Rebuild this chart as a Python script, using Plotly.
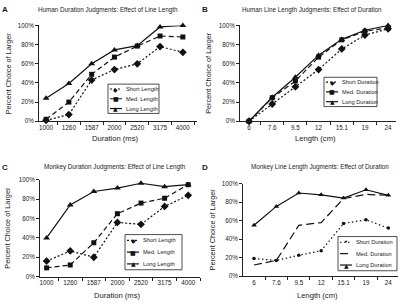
import plotly.graph_objects as go

# ---------------- data ----------------
durations = ["1000", "1260", "1587", "2000", "2520", "3175", "4000"]
lengths = ["6", "7.6", "9.5", "12", "15.1", "19", "24"]

a_short = [1, 7, 43, 54, 60, 78, 72]
a_med = [2, 20, 49, 67, 78.5, 89, 88]
a_long = [24, 39.5, 60, 74.5, 79, 98.5, 100]

b_short = [0, 18, 36, 54, 75.5, 90, 96.5]
b_med = [0, 24.5, 42, 67, 85, 94, 97.5]
b_long = [0, 25, 46, 69, 85.5, 95, 100]

c_short = [16, 26.5, 20, 56, 54, 72.5, 84]
c_med = [9, 12, 35, 65, 76, 81, 95]
c_long = [40, 74, 88, 91.5, 96.5, 93, 95]

d_short = [19, 17, 22.5, 27.5, 57, 61, 52]
d_med = [12, 17, 55, 58, 84, 88.5, 87.5]
d_long = [55, 75.5, 90, 88, 84.5, 93.5, 87.5]

y_ticks = [0, 20, 40, 60, 80, 100]
y_tick_text = ["0%", "20%", "40%", "60%", "80%", "100%"]

panel_letters = ["A", "B", "C", "D"]
panel_titles = [
    "Human Duration Judgments: Effect of Line Length",
    "Human Line Length Judgments: Effect of Duration",
    "Monkey Duration Judgments: Effect of Line Length",
    "Monkey Line Length Jugments: Effect of Duration",
]
x_titles = ["Duration (ms)", "Length (cm)", "Duration (ms)", "Length (cm)"]
y_title = "Percent Choice of Larger"
legend_names = [
    ["Short Length", "Med. Length", "Long Length"],
    ["Short Duration", "Med. Duration", "Long Duration"],
    ["Short Length", "Med. Length", "Long Length"],
    ["Short Duration", "Med. Duration", "Long Duration"],
]

# ---------------- layout geometry (pixels) ----------------
W, H = 400, 305
FONT = "Liberation Sans, Arial, sans-serif"
INK = "#1a1a1a"

panels = [
    dict(x0=39, x1=197, yt=22, yb=120, rng=[-0.31, 6.62]),
    dict(x0=240, x1=396, yt=22, yb=120, rng=[-0.39, 6.34]),
    dict(x0=40, x1=200, yt=180, yb=279, rng=[-0.28, 6.5]),
    dict(x0=243, x1=398, yt=184, yb=278.5, rng=[-0.49, 6.43]),
]
title_pos = [(108, 6), (312, 6), (115, 167), (320, 167)]
letter_pos = [(5, 6), (205, 6), (5, 167), (205, 167)]
ytitle_x = [8, 208.5, 7.5, 212.5]
xtitle_y = [138, 138, 298, 298]
legend_box = [(108, 82, 159, 112), (324, 75, 377, 105), (125, 236, 182, 272), (338, 238, 397, 273)]


def px(x):
    return x / W


def py(y):
    return 1 - y / H


series = [
    (durations, [a_short, a_med, a_long]),
    (lengths, [b_short, b_med, b_long]),
    (durations, [c_short, c_med, c_long]),
    (lengths, [d_short, d_med, d_long]),
]

styles_abc = [
    ("2px,2px", "diamond", 6),
    ("5px,3px", "square", 5),
    ("solid", "triangle-up", 6),
]
styles_d = [
    ("1.5px,2.5px", "circle", 3.5),
    ("8px,4px", None, 0),
    ("solid", "triangle-up", 5),
]
glyphs_abc = ["\u25c6", "\u25a0", "\u25b2"]
glyphs_d = ["\u2022", "", "\u25b2"]

fig = go.Figure()
layout = dict(
    width=W,
    height=H,
    margin=dict(l=0, r=0, t=0, b=0),
    paper_bgcolor="white",
    plot_bgcolor="white",
    showlegend=False,
    font=dict(family=FONT, size=7, color=INK),
)
annotations = []
shapes = []

for i, (cats, ys) in enumerate(series):
    p = panels[i]
    n = "" if i == 0 else str(i + 1)
    xa, ya = "x" + n, "y" + n
    styles = styles_d if i == 3 else styles_abc
    for k, vals in enumerate(ys):
        dash, sym, msz = styles[k]
        mode = "lines+markers" if sym else "lines"
        fig.add_trace(
            go.Scatter(
                x=cats,
                y=vals,
                xaxis=xa,
                yaxis=ya,
                mode=mode,
                name=legend_names[i][k],
                line=dict(color="#111", width=1.2, dash=dash),
                marker=dict(symbol=sym or "circle", size=msz, color="#111"),
                cliponaxis=False,
            )
        )
    layout["xaxis" + n] = dict(
        domain=[px(p["x0"]), px(p["x1"])],
        anchor=ya,
        type="category",
        range=p["rng"],
        showline=True,
        linecolor="#222",
        linewidth=1,
        ticks="outside",
        tickson="boundaries",
        ticklen=3,
        tickcolor="#222",
        tickangle=0,
        showgrid=False,
        zeroline=False,
        tickfont=dict(size=6.3, color=INK, family=FONT),
        fixedrange=True,
    )
    layout["yaxis" + n] = dict(
        domain=[py(p["yb"]), py(p["yt"])],
        anchor=xa,
        range=[0, 100],
        tickvals=y_ticks,
        ticktext=y_tick_text,
        showline=True,
        linecolor="#222",
        linewidth=1,
        ticks="outside",
        ticklen=3,
        tickcolor="#222",
        showgrid=False,
        zeroline=False,
        tickfont=dict(size=6.3, color=INK, family=FONT),
        fixedrange=True,
    )

    tx, ty = title_pos[i]
    annotations.append(dict(x=px(tx), y=py(ty), xref="paper", yref="paper", text=panel_titles[i],
                            showarrow=False, xanchor="center", yanchor="middle",
                            font=dict(size=6.3, color=INK, family=FONT)))
    lx, ly = letter_pos[i]
    annotations.append(dict(x=px(lx), y=py(ly), xref="paper", yref="paper", text="<b>%s</b>" % panel_letters[i],
                            showarrow=False, xanchor="center", yanchor="middle",
                            font=dict(size=8, color=INK, family=FONT)))
    annotations.append(dict(x=px(ytitle_x[i]), y=py((p["yt"] + p["yb"]) / 2), xref="paper", yref="paper",
                            text=y_title, textangle=-90, showarrow=False, xanchor="center", yanchor="middle",
                            font=dict(size=7.3, color=INK, family=FONT)))
    annotations.append(dict(x=px((p["x0"] + p["x1"]) / 2 - 3), y=py(xtitle_y[i]), xref="paper", yref="paper",
                            text=x_titles[i], showarrow=False, xanchor="center", yanchor="middle",
                            font=dict(size=7.6, color=INK, family=FONT)))

    bx0, by0, bx1, by1 = legend_box[i]
    shapes.append(dict(type="rect", xref="paper", yref="paper", x0=px(bx0), x1=px(bx1), y0=py(by1), y1=py(by0),
                       line=dict(color="#222", width=0.8), fillcolor="white", layer="above"))
    glyphs = glyphs_d if i == 3 else glyphs_abc
    rowh = (by1 - by0) / 3
    for k in range(3):
        ry = by0 + rowh * (k + 0.5)
        dash = styles[k][0]
        shapes.append(dict(type="line", xref="paper", yref="paper", x0=px(bx0 + 2), x1=px(bx0 + 14),
                           y0=py(ry), y1=py(ry), line=dict(color="#111", width=1.2, dash=dash), layer="above"))
        if glyphs[k]:
            annotations.append(dict(x=px(bx0 + 8), y=py(ry), xref="paper", yref="paper", text=glyphs[k],
                                    showarrow=False, xanchor="center", yanchor="middle",
                                    font=dict(size=6 if (k != 0 or i != 3) else 7, color="#111",
                                              family="DejaVu Sans")))
        annotations.append(dict(x=px(bx0 + 15.5), y=py(ry), xref="paper", yref="paper", text=legend_names[i][k],
                                showarrow=False, xanchor="left", yanchor="middle",
                                font=dict(size=5.7, color=INK, family=FONT)))

layout["annotations"] = annotations
layout["shapes"] = shapes
fig.update_layout(**layout)
fig.write_html(
    "out.html",
    config={"displayModeBar": False, "staticPlot": True},
    post_script="document.body.style.margin='0px';document.body.style.overflow='hidden';",
)
